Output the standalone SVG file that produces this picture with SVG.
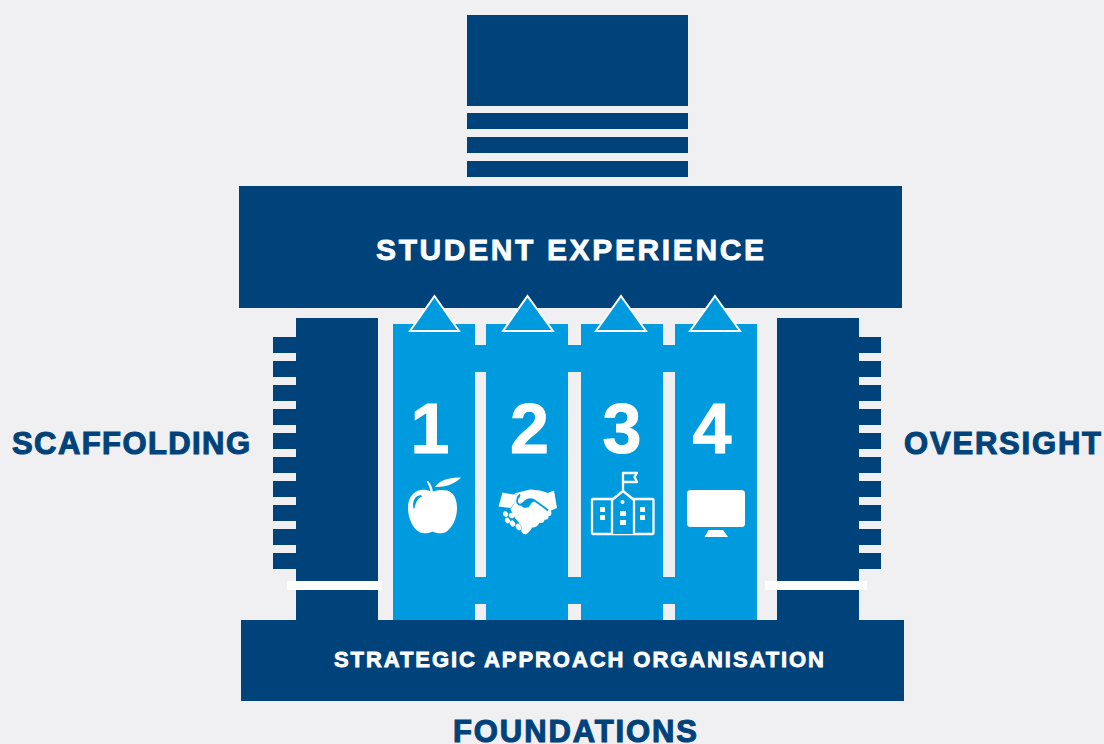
<svg xmlns="http://www.w3.org/2000/svg" width="1104" height="744" viewBox="0 0 1104 744">
<style>
.navy{fill:#00437b}
.blue{fill:#009bdf}
.bg{fill:#f0f0f3}
.wh{fill:#fff}
.t{font-family:"Liberation Sans",Arial,sans-serif;font-weight:700}
.lab{fill:#00437b;stroke:#00437b;stroke-width:1.1;font-size:31px}
.wt{fill:#fff;stroke:#fff;stroke-width:.8}
.num{fill:#fff;stroke:#fff;stroke-width:1;font-size:70px;text-anchor:middle}
.tri{fill:#009bdf;stroke:#fff;stroke-width:2}
</style>
<defs>
<g id="ticks"><rect y="337" width="23" height="16"/><rect y="361" width="23" height="16"/><rect y="385" width="23" height="16"/><rect y="409" width="23" height="16"/><rect y="433" width="23" height="16"/><rect y="457" width="23" height="16"/><rect y="481" width="23" height="16"/><rect y="505" width="23" height="16"/><rect y="529" width="23" height="16"/><rect y="553" width="23" height="16"/></g>
</defs>
<rect class="bg" width="1104" height="744"/>
<g id="stack" class="navy">
<rect x="467" y="15" width="221" height="91"/>
<rect x="467" y="113" width="221" height="16"/>
<rect x="467" y="137" width="221" height="16"/>
<rect x="467" y="161" width="221" height="16"/>
</g>
<g id="student-experience">
<rect class="navy" x="239" y="186" width="663" height="122"/>
<text class="t wt" x="376" y="260" font-size="30" textLength="388">STUDENT EXPERIENCE</text>
</g>
<g id="scaffolding">
<g class="navy"><use href="#ticks" x="273"/><rect x="296" y="318" width="82" height="302"/></g>
<rect class="wh" x="287" y="581" width="95" height="9"/>
<text class="t lab" x="12" y="454" textLength="238">SCAFFOLDING</text>
</g>
<g id="oversight">
<g class="navy"><use href="#ticks" x="858"/><rect x="777" y="318" width="82" height="302"/></g>
<rect class="wh" x="765" y="581" width="102" height="9"/>
<text class="t lab" x="904" y="454" textLength="197">OVERSIGHT</text>
</g>
<g id="pillars">
<rect class="blue" x="475" y="345" width="200" height="27"/>
<rect class="blue" x="475" y="577" width="200" height="27"/>
</g>
<g id="pillar-1">
<rect class="blue" x="393" y="324" width="82" height="296"/>
<path class="tri" d="M434.500 296L459 331H410Z"/>
<text class="t num" x="430" y="453">1</text>
<path class="wh" d="M427 482.500C426 481.500 427.500 480.500 428.500 481.500C431 484 432.500 488 432.800 491.500C437 490 442 489.500 447 490.500C453 492 457 498 457 508C457 519 452 528 446 532C442 534 436 533.500 432.500 531.500C429 533.500 423 534 419 532C413 528 408 519 408 507.500C408 497 414 491 421 490C424.500 489.500 427.500 490 430.300 491.300C430 488 428.700 485 427 482.500Z"/>
<path class="wh" d="M435 487C439 480.500 449 477 461 477.500C456 483 446 487.500 435 487Z"/>
<path class="blue" d="M413.500 508.500C412 501 415 495.500 421 495L422 496.500C417.500 498 415.500 503 414.500 508.500Z"/>
</g>
<g id="pillar-2">
<rect class="blue" x="486" y="324" width="82" height="296"/>
<path class="tri" d="M527.500 296L553 331H503Z"/>
<text class="t num" x="529.500" y="453">2</text>
<path class="wh" d="M502.500 492.500L513 494.500L521 493.500C518 497 515.500 502 510.500 508L498.500 506.500Z"/>
<path class="wh" d="M510.500 509C514 504 516 500 519 496L521 505C522 508 526 508.500 529 507C530.500 504 532.500 502 534.500 501C539 502.500 546 507 551 511C552 514 551 516.500 548.500 516C549 518.500 547 520.500 544.500 519.500C544.500 522 542 524 539.500 522.500C538 526.500 535 527.500 532 527.500C531 530.500 528 533 526 534.500C523 534 522 532 522 530C522 525 518 522 515 518C513 514 511 511 510.500 509Z"/>
<path class="wh" d="M512 519.500a2.500 3 -30 1 1 .01 0ZM506 518a2.500 3 -30 1 1 .01 0Z" transform="translate(0 -1)"/>
<ellipse class="wh" cx="507.500" cy="520.500" rx="2.300" ry="3" transform="rotate(-30 507.500 520.500)"/>
<ellipse class="wh" cx="512.500" cy="523.500" rx="2.500" ry="3.300" transform="rotate(-30 512.500 523.500)"/>
<ellipse class="wh" cx="518.500" cy="527" rx="2.500" ry="3.500" transform="rotate(-30 518.500 527)"/>
<ellipse class="wh" cx="524" cy="531" rx="2.500" ry="3.300" transform="rotate(-30 524 531)"/>
<path class="wh" d="M514 493.500L530 489.500L540 490.500L548 493L554 490.500L557 508L550 511C544 506 539 503 534 499.500C530 499 525 500 522 503C520 505 519 498 520 495Z"/>
<path d="M510 509C514 504 515 499 518 495.500L521 495" fill="none" stroke="#009bdf" stroke-width="0"/>
<path d="M548 510.500C543 506 537 502.500 533 499.500C529 498.500 526 500 523.500 503C521.500 505.500 519 505.500 517.500 503C516.500 500 517.500 497 520 494.500" fill="none" stroke="#009bdf" stroke-width="1.800"/>
</g>
<g id="pillar-3">
<rect class="blue" x="581" y="324" width="82" height="296"/>
<path class="tri" d="M621 296L646 331H596Z"/>
<text class="t num" x="622" y="453">3</text>
<g fill="none" stroke="#fff" stroke-width="2.300" stroke-linejoin="round">
<rect x="592" y="499" width="61.500" height="35" rx="1"/>
<path d="M612 534V500L623 491L634 500V534" fill="#009bdf"/>
<path d="M623 491V473H637L634.500 477L637 482H623"/>
</g>
<g class="wh">
<circle cx="622.500" cy="502" r="2"/>
<rect x="600" y="507" width="5" height="5"/><rect x="600" y="515" width="5" height="5"/>
<rect x="620" y="511" width="6" height="5"/><rect x="620" y="520" width="6" height="5"/>
<rect x="640" y="507" width="5" height="5"/><rect x="640" y="515" width="5" height="5"/>
</g>
</g>
<g id="pillar-4">
<rect class="blue" x="675" y="324" width="82" height="296"/>
<path class="tri" d="M715 296L740 331H690Z"/>
<text class="t num" x="712" y="453">4</text>
<rect class="wh" x="687" y="490" width="58" height="37" rx="3.500"/>
<path class="wh" d="M708.500 530H723L728 537H704.500Z"/>
</g>
<g id="foundations">
<rect class="navy" x="241" y="620" width="663" height="81"/>
<text class="t wt" x="334" y="667" font-size="22" textLength="490">STRATEGIC APPROACH ORGANISATION</text>
<text class="t lab" x="453" y="742" textLength="244">FOUNDATIONS</text>
</g>
<g id="connectors"/>
</svg>
